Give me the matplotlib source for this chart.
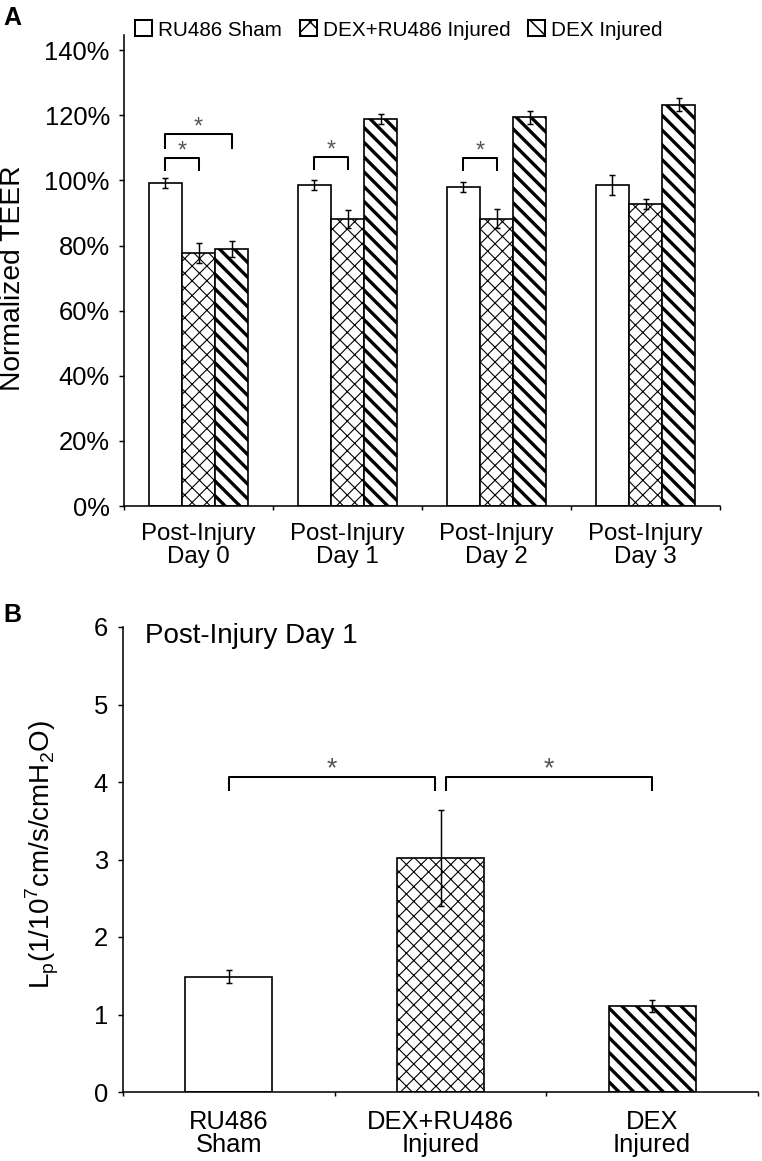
import numpy as np
import matplotlib
matplotlib.use('Agg')
import matplotlib.pyplot as plt
from matplotlib.patches import Patch

plt.rcParams['font.family'] = ['Liberation Sans', 'DejaVu Sans']
plt.rcParams['hatch.linewidth'] = 0.8

# Panel A: normalized TEER per post-injury day
days = ['Post-Injury\nDay 0', 'Post-Injury\nDay 1', 'Post-Injury\nDay 2', 'Post-Injury\nDay 3']
groups = ['RU486 Sham', 'DEX+RU486 Injured', 'DEX Injured']
sham_teer = [0.993, 0.986, 0.979, 0.986]
sham_teer_err = [0.015, 0.015, 0.015, 0.03]
combo_teer = [0.777, 0.882, 0.883, 0.928]
combo_teer_err = [0.03, 0.027, 0.03, 0.015]
dex_teer = [0.790, 1.188, 1.194, 1.233]
dex_teer_err = [0.025, 0.015, 0.02, 0.02]
teer_ticks = [0, 0.2, 0.4, 0.6, 0.8, 1.0, 1.2, 1.4]

# significance brackets in A: (day, bar from, bar to, height)
teer_sig = [(0, 0, 1, 1.068), (0, 0, 2, 1.143), (1, 0, 1, 1.072), (2, 0, 1, 1.069)]

# Panel B: Lp on post-injury day 1
lp_labels = ['RU486\nSham', 'DEX+RU486\nInjured', 'DEX\nInjured']
lp_values = [1.49, 3.02, 1.11]
lp_err = [0.08, 0.62, 0.08]
lp_ticks = [0, 1, 2, 3, 4, 5, 6]
lp_sig = [(0, 1, 4.06), (1, 2, 4.06)]

hatches = ['', 'xxx', '\\\\\\']
hatch_lws = [0.8, 0.6, 1.8]

W, H, DPI = 762, 1161, 133
fig = plt.figure(figsize=(W / DPI, H / DPI), dpi=DPI)


def style_bar(bar, hatch, hlw):
    bar.set_hatch(hatch)
    if hasattr(bar, 'set_hatch_linewidth'):
        bar.set_hatch_linewidth(hlw)


err_kw = dict(ecolor='black', elinewidth=0.8, capsize=1.8, capthick=0.8)

# ---- Panel A ----
axA = fig.add_axes([124 / W, 1 - 506 / H, 596 / W, 471 / H])
x = np.arange(len(days))
w = 0.222
series = [(sham_teer, sham_teer_err), (combo_teer, combo_teer_err), (dex_teer, dex_teer_err)]
for i, (vals, errs) in enumerate(series):
    bars = axA.bar(x + (i - 1) * w, vals, w, yerr=errs, color='white',
                   edgecolor='black', linewidth=0.9, error_kw=err_kw)
    for b in bars:
        style_bar(b, hatches[i], hatch_lws[i])

for day, a, b, h in teer_sig:
    xa = day + (a - 1) * w
    xb = day + (b - 1) * w
    leg = 0.036 if b == 1 else 0.043
    axA.plot([xa, xa, xb, xb], [h - leg, h, h, h - leg], color='black', lw=1.1,
             solid_joinstyle='round')
    axA.text((xa + xb) / 2, h + 0.002, '*', ha='center', va='baseline',
             fontsize=12.5, color='#555555')

axA.set_xlim(-0.5, len(days) - 0.5)
axA.set_ylim(0, 1.447)
axA.set_yticks(teer_ticks)
axA.set_yticklabels([f'{v * 100:.0f}%' for v in teer_ticks])
axA.set_xticks(np.arange(len(days) + 1) - 0.5)
axA.set_xticks(x, days, minor=True)
axA.tick_params(axis='x', which='major', direction='out', length=2.2, width=0.8,
                labelbottom=False)
axA.tick_params(axis='x', which='minor', length=0, pad=9, labelsize=13)
axA.tick_params(axis='y', direction='out', length=2.7, width=0.8, pad=5, labelsize=13.8)
for lbl in axA.get_xticklabels(minor=True):
    lbl.set_linespacing(1.06)
axA.set_ylabel('Normalized TEER', fontsize=15.3, va='center')
axA.yaxis.set_label_coords(-111 / 596, 0.484)
for s in ['top', 'right']:
    axA.spines[s].set_visible(False)
for s in ['left', 'bottom']:
    axA.spines[s].set_linewidth(0.85)

handles = [Patch(facecolor='white', edgecolor='black', hatch=h, linewidth=1.1)
           for h in ['', 'xx', '\\\\']]
fig.legend(handles, groups, loc='center left', bbox_to_anchor=(135 / W, 1 - 30 / H),
           ncol=3, frameon=False, fontsize=11.2, handlelength=0.82, handleheight=0.82,
           handletextpad=0.3, columnspacing=0.85, borderpad=0, borderaxespad=0)

fig.text(3 / W, 1 - 6 / H, 'A', fontsize=13.5, fontweight='bold', va='top', ha='left')

# ---- Panel B ----
axB = fig.add_axes([123 / W, 1 - 1092 / H, 635 / W, 465 / H])
xb = np.arange(len(lp_labels))
wb = 0.41
bars = axB.bar(xb, lp_values, wb, yerr=lp_err, color='white', edgecolor='black',
               linewidth=0.9, error_kw=err_kw)
for i, b in enumerate(bars):
    style_bar(b, hatches[i], hatch_lws[i])

for a, b, h in lp_sig:
    xa = a + (0.024 if a == 1 else 0)
    xe = b - (0.024 if b == 1 else 0)
    axB.plot([xa, xa, xe, xe], [h - 0.16, h, h, h - 0.16], color='black', lw=1.1,
             solid_joinstyle='round')
    axB.text((xa + xe) / 2, h + 0.01, '*', ha='center', va='baseline',
             fontsize=14.5, color='#555555')

axB.text(0.035, 1.009, 'Post-Injury Day 1', transform=axB.transAxes, ha='left',
         va='top', fontsize=15)

axB.set_xlim(-0.5, len(lp_labels) - 0.5)
axB.set_ylim(0, 6)
axB.set_yticks(lp_ticks)
axB.set_xticks(np.arange(len(lp_labels) + 1) - 0.5)
axB.set_xticks(xb, lp_labels, minor=True)
axB.tick_params(axis='x', which='major', direction='out', length=2.2, width=0.8,
                labelbottom=False)
axB.tick_params(axis='x', which='minor', length=0, pad=9.5, labelsize=13.8)
axB.tick_params(axis='y', direction='out', length=2.7, width=0.8, pad=5.4, labelsize=13.8)
for lbl in axB.get_xticklabels(minor=True):
    lbl.set_linespacing(0.98)
axB.set_ylabel(r'L$_\mathregular{p}$(1/10$^\mathregular{7}$cm/s/cmH$_\mathregular{2}$O)',
               fontsize=15, va='center')
axB.yaxis.set_label_coords(-81 / 635, 0.51)
for s in ['top', 'right']:
    axB.spines[s].set_visible(False)
for s in ['left', 'bottom']:
    axB.spines[s].set_linewidth(0.85)

fig.text(3 / W, 1 - 603 / H, 'B', fontsize=13.5, fontweight='bold', va='top', ha='left')

fig.savefig('out.png', dpi=DPI)
